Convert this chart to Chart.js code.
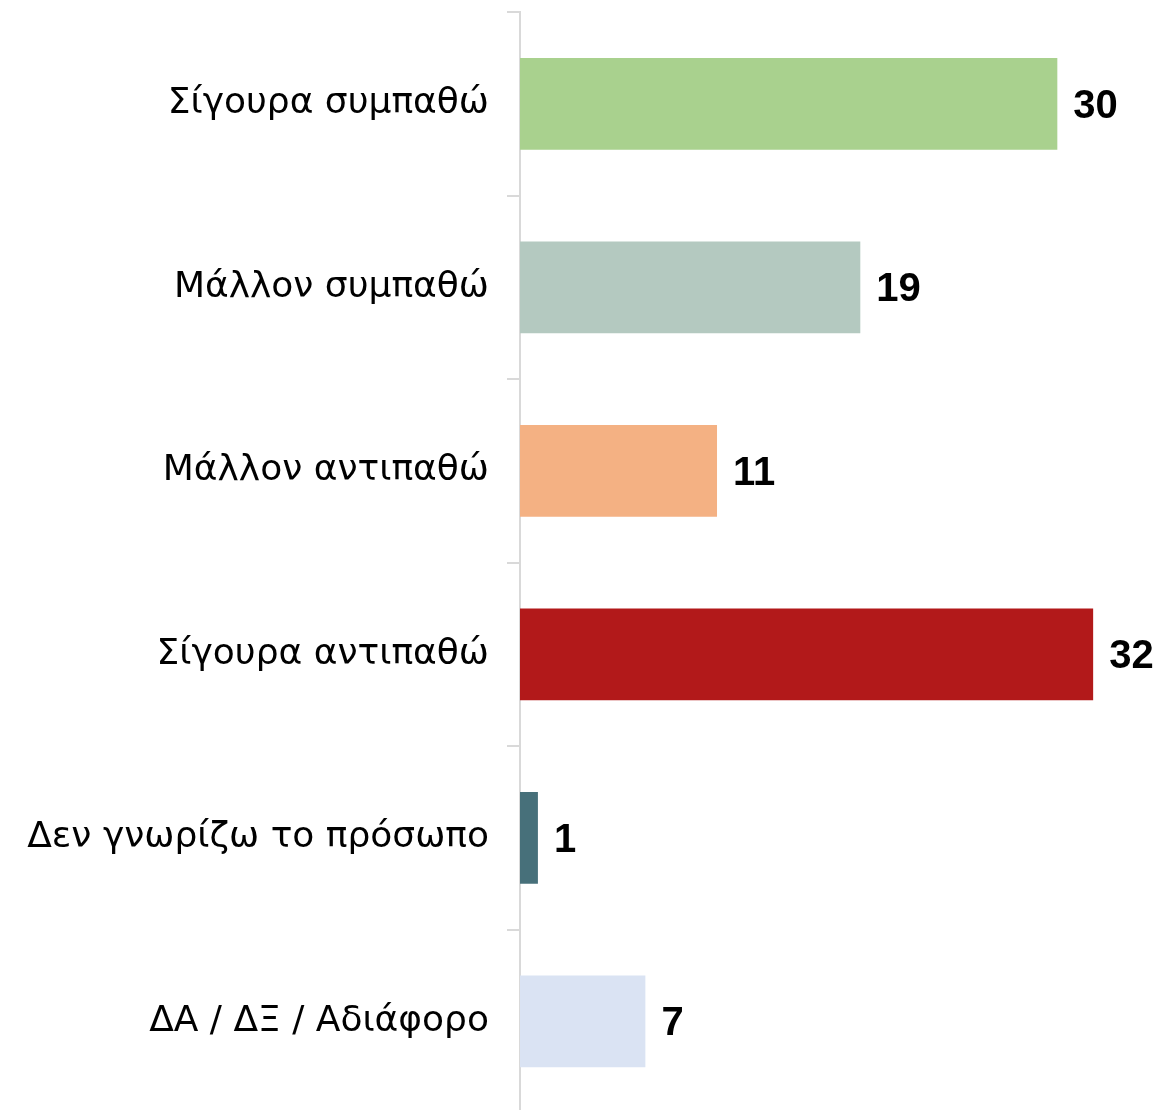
<!DOCTYPE html>
<html>
<head>
<meta charset="utf-8">
<script src="https://cdn.jsdelivr.net/npm/chart.js@4/dist/chart.umd.min.js"></script>
<style>
  html, body { margin: 0; padding: 0; background: #fff; overflow: hidden; }
  #wrap { width: 1163px; height: 1113px; }
</style>
</head>
<body>
<div id="wrap"><canvas id="chart"></canvas></div>
<script>
// data
const categories = ['Σίγουρα συμπαθώ', 'Μάλλον συμπαθώ', 'Μάλλον αντιπαθώ', 'Σίγουρα αντιπαθώ', 'Δεν γνωρίζω το πρόσωπο', 'ΔΑ / ΔΞ / Αδιάφορο'];
const values = [30, 19, 11, 32, 1, 7];
const barColors = ['#a9d18e', '#b4c9c0', '#f4b183', '#b2191a', '#47707a', '#dae3f3'];

// value labels drawn just right of each bar
const valueLabels = {
  id: 'valueLabels',
  afterDatasetsDraw(chart) {
    const ctx = chart.ctx;
    const meta = chart.getDatasetMeta(0);
    ctx.save();
    ctx.font = 'bold 40px "Liberation Sans", Arial, sans-serif';
    ctx.fillStyle = '#000';
    ctx.textAlign = 'left';
    ctx.textBaseline = 'middle';
    meta.data.forEach((bar, i) => {
      ctx.fillText(String(values[i]), bar.x + 16, bar.y + 3);
    });
    ctx.restore();
  }
};

new Chart(document.getElementById('chart'), {
  type: 'bar',
  data: {
    labels: categories,
    datasets: [{
      data: values,
      backgroundColor: barColors,
      barPercentage: 0.5,
      categoryPercentage: 1
    }]
  },
  options: {
    indexAxis: 'y',
    responsive: true,
    maintainAspectRatio: false,
    animation: false,
    layout: { padding: { top: 12, right: 0, bottom: 0, left: 0 } },
    plugins: {
      legend: { display: false },
      tooltip: { enabled: false }
    },
    scales: {
      x: {
        display: false,
        min: 0,
        max: 35.9
      },
      y: {
        afterFit(scale) {
          scale.width = 520;
          scale.paddingTop = 0;
          scale.paddingBottom = 0;
        },
        border: { color: '#d9d9d9', width: 2 },
        grid: {
          drawOnChartArea: false,
          color: '#d9d9d9',
          lineWidth: 2,
          tickLength: 13
        },
        ticks: {
          color: '#000',
          padding: 18,
          font: { family: '"DejaVu Sans", sans-serif', size: 36 }
        }
      }
    }
  },
  plugins: [valueLabels]
});
</script>
</body>
</html>
